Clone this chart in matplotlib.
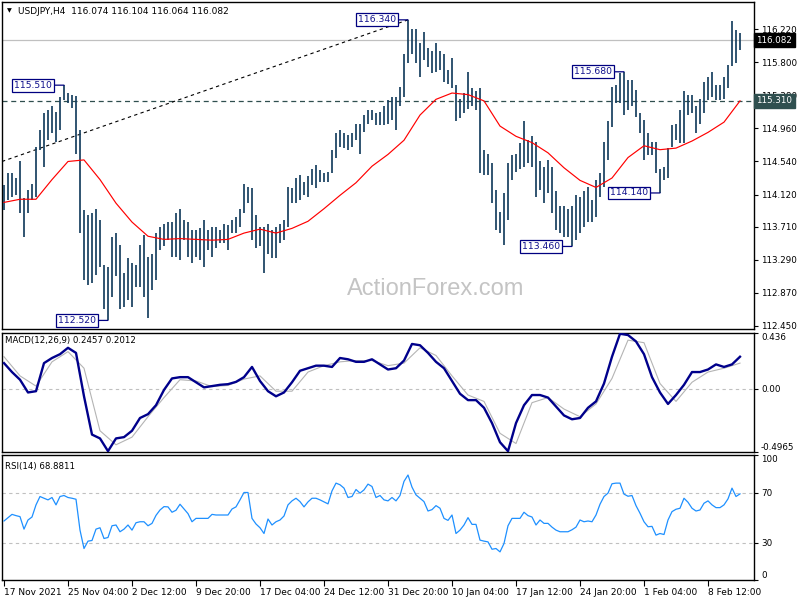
import numpy as np
import matplotlib
matplotlib.use("Agg")
import matplotlib.pyplot as plt

# ---------------- data (one value per 8-hour step) -------------
highs = [114.24, 114.39, 114.39, 114.33, 114.54, 114.07, 114.18, 114.26, 114.73, 114.94,
         115.15, 115.19, 115.24, 115.17, 115.36, 115.51, 115.41, 115.38, 115.37, 114.94,
         113.92, 113.86, 113.88, 113.94, 113.80, 113.22, 113.20, 113.58, 113.63, 113.48,
         113.12, 113.31, 113.25, 113.22, 113.48, 113.61, 113.33, 113.37, 113.63, 113.71,
         113.75, 113.77, 113.77, 113.88, 113.94, 113.80, 113.77, 113.67, 113.67, 113.69,
         113.80, 113.67, 113.71, 113.71, 113.67, 113.75, 113.73, 113.80, 113.84, 113.94,
         114.26, 114.22, 114.20, 113.86, 113.71, 113.71, 113.75, 113.67, 113.71, 113.75,
         113.80, 114.22, 114.20, 114.33, 114.37, 114.28, 114.35, 114.45, 114.49, 114.43,
         114.39, 114.41, 114.69, 114.90, 114.94, 114.90, 114.88, 114.90, 115.02, 115.02,
         115.13, 115.19, 115.19, 115.15, 115.17, 115.24, 115.32, 115.36, 115.36, 115.49,
         115.91, 116.34, 116.23, 116.23, 116.04, 116.19, 115.98, 115.94, 116.04, 115.94,
         115.91, 115.70, 115.85, 115.51, 115.34, 115.41, 115.68, 115.47, 115.43, 115.47,
         114.69, 114.64, 114.52, 114.18, 113.90, 114.14, 114.52, 114.62, 114.64, 114.77,
         115.05, 114.81, 114.86, 114.79, 114.54, 114.47, 114.56, 114.47, 114.16, 113.97,
         113.97, 113.94, 113.97, 114.11, 114.09, 114.16, 114.22, 114.05, 114.31, 114.39,
         114.79, 115.05, 115.49, 115.51, 115.66, 115.68, 115.58, 115.58, 115.45, 115.15,
         115.07, 114.90, 114.79, 114.79, 114.45, 114.47, 114.71, 115.00, 115.02, 115.19,
         115.43, 115.38, 115.38, 115.24, 115.34, 115.55, 115.62, 115.68, 115.51, 115.51,
         115.62, 115.77, 116.33, 116.21, 116.17]
lows = [113.92, 114.05, 114.09, 114.11, 113.88, 113.58, 113.88, 114.05, 114.09, 114.69,
        114.47, 114.81, 114.90, 114.79, 114.94, 115.32, 115.28, 115.22, 114.64, 113.63,
        113.03, 112.97, 112.99, 113.10, 113.20, 112.67, 112.52, 112.82, 113.08, 112.67,
        112.69, 112.78, 112.69, 112.95, 112.95, 112.82, 112.55, 112.91, 113.03, 113.41,
        113.46, 113.54, 113.33, 113.33, 113.29, 113.54, 113.33, 113.25, 113.33, 113.29,
        113.20, 113.41, 113.33, 113.44, 113.50, 113.50, 113.41, 113.63, 113.63, 113.71,
        113.88, 114.01, 113.54, 113.44, 113.46, 113.12, 113.37, 113.31, 113.31, 113.50,
        113.54, 113.71, 114.01, 114.01, 114.05, 114.11, 114.09, 114.24, 114.20, 114.28,
        114.28, 114.28, 114.39, 114.58, 114.73, 114.71, 114.69, 114.73, 114.81, 114.64,
        114.92, 115.02, 115.07, 115.00, 115.00, 115.00, 115.02, 115.07, 114.94, 115.24,
        115.36, 115.79, 115.91, 115.79, 115.62, 115.83, 115.74, 115.66, 115.68, 115.70,
        115.55, 115.53, 115.47, 115.05, 115.09, 115.15, 115.21, 115.24, 115.19, 114.39,
        114.37, 114.37, 114.01, 113.67, 113.63, 113.48, 113.80, 114.30, 114.41, 114.45,
        114.47, 114.52, 114.47, 114.09, 114.18, 114.01, 114.14, 113.88, 113.67, 113.63,
        113.58, 113.58, 113.46, 113.54, 113.63, 113.71, 113.77, 113.77, 113.84, 114.09,
        114.22, 114.56, 114.98, 115.28, 115.28, 115.13, 115.19, 115.24, 115.11, 114.90,
        114.56, 114.62, 114.62, 114.39, 114.14, 114.30, 114.33, 114.73, 114.81, 114.77,
        114.77, 115.13, 115.15, 114.90, 115.02, 115.15, 115.32, 115.36, 115.32, 115.32,
        115.34, 115.47, 115.75, 115.79, 115.96]

# moving average, sampled every 4th step
ma = [114.02, 114.06, 114.06, 114.31, 114.54, 114.56, 114.31, 114.01, 113.77, 113.59,
      113.55, 113.56, 113.55, 113.54, 113.55, 113.63, 113.68, 113.63, 113.69, 113.78,
      113.94, 114.11, 114.27, 114.48, 114.63, 114.81, 115.13, 115.33, 115.41, 115.39,
      115.31, 114.99, 114.86, 114.78, 114.65, 114.46, 114.30, 114.21, 114.33, 114.59,
      114.74, 114.69, 114.71, 114.80, 114.91, 115.04, 115.31]

# MACD main line, every 2nd step
macd = [0.20, 0.13, 0.07, -0.03, -0.02, 0.20, 0.24, 0.27, 0.32, 0.28,
        -0.06, -0.36, -0.39, -0.49, -0.39, -0.38, -0.33, -0.23, -0.20, -0.13,
        -0.01, 0.08, 0.09, 0.09, 0.05, 0.01, 0.02, 0.03, 0.035, 0.053,
        0.09, 0.17, 0.06, -0.02, -0.06, -0.03, 0.05, 0.14, 0.16, 0.18,
        0.18, 0.17, 0.24, 0.23, 0.21, 0.21, 0.23, 0.19, 0.15, 0.16,
        0.22, 0.35, 0.34, 0.28, 0.21, 0.16, 0.06, -0.04, -0.09, -0.09,
        -0.15, -0.27, -0.42, -0.49, -0.27, -0.13, -0.05, -0.05, -0.07, -0.14,
        -0.21, -0.24, -0.23, -0.15, -0.10, 0.04, 0.25, 0.43, 0.42, 0.37,
        0.27, 0.09, -0.03, -0.12, -0.05, 0.03, 0.13, 0.13, 0.15, 0.19,
        0.17, 0.19, 0.25]
# MACD signal line, every 4th step
signal = [0.25, 0.10, 0.02, 0.21, 0.29, 0.16, -0.33, -0.44, -0.38, -0.22,
          -0.07, 0.07, 0.06, 0.016, 0.025, 0.075, 0.10, -0.02, -0.02, 0.13,
          0.18, 0.21, 0.22, 0.22, 0.18, 0.20, 0.32, 0.26, 0.10, -0.05,
          -0.10, -0.35, -0.43, -0.11, -0.07, -0.16, -0.22, -0.12, 0.08, 0.38,
          0.36, 0.04, -0.10, 0.05, 0.13, 0.16, 0.20]

rsi = [47.2, 49.9, 52.5, 51.5, 50.7, 40.7, 48.0, 50.4, 60.1, 66.8,
       65.4, 64.1, 66.0, 60.1, 66.8, 67.6, 66.0, 65.4, 64.6, 39.9,
       25.2, 31.1, 31.6, 40.7, 41.8, 33.2, 34.0, 43.4, 44.0, 38.6,
       40.7, 44.0, 39.9, 45.8, 46.6, 46.6, 43.4, 45.3, 51.7, 56.0,
       58.7, 58.5, 54.2, 55.8, 60.6, 56.8, 53.1, 46.6, 49.3, 49.3,
       49.3, 49.3, 52.5, 52.0, 52.0, 52.0, 52.0, 56.8, 58.5, 64.1,
       70.0, 70.0, 49.3, 44.8, 41.8, 37.2, 48.8, 44.0, 46.6, 48.0,
       51.2, 60.1, 63.3, 65.4, 62.7, 58.5, 62.5, 65.4, 65.4, 64.1,
       62.5, 60.9, 71.3, 77.5, 76.2, 73.5, 66.0, 66.8, 72.4, 69.5,
       72.1, 76.7, 74.8, 66.0,
       67.6, 64.1, 63.3, 66.0, 63.3, 67.6, 78.9, 84.0, 74.3, 68.1,
       65.4, 62.7, 55.2, 56.3, 59.5, 57.4, 49.3, 47.7, 52.0, 37.2,
       39.9, 44.0, 49.9, 44.5, 44.5, 31.9, 31.1, 30.5, 24.6, 25.2,
       22.5, 29.2, 43.4, 49.3, 49.3, 49.3, 54.2, 51.5, 50.4, 44.0,
       48.0, 45.3, 45.3, 42.3, 39.9, 38.6, 38.6, 38.6, 40.2, 42.3,
       48.0, 46.6, 47.2, 46.6, 52.0, 60.6, 66.8, 69.5, 77.0, 77.5,
       77.5, 68.7, 67.0, 67.6, 59.5, 53.4, 46.6, 42.6, 42.9, 35.9,
       37.2, 36.4, 48.0, 54.7, 56.6, 57.4, 65.4, 62.2, 57.4, 55.2,
       56.0, 61.4, 63.3, 60.1, 57.9, 57.9, 60.1, 64.9, 73.5, 66.8,
       68.9]

# swing labels
swing_idx = [15, 101, 26, 142, 164, 155]
swing_val = [115.51, 116.34, 112.52, 113.46, 114.14, 115.68]

# trend line (start, end)
trend_idx = [-0.5, 101]
trend_val = [114.54, 116.34]

support_level = 115.310
last_price = 116.082

price_ticks = [116.22, 115.80, 115.38, 114.96, 114.54, 114.12, 113.71, 113.29, 112.87, 112.45]
macd_ticks = [0.436, 0.0, -0.4965]
macd_tick_labels = ["0.436", "0.00", "-0.4965"]
rsi_ticks = [100, 70, 30, 0]
rsi_levels = [70, 30]

date_labels = ["17 Nov 2021", "25 Nov 04:00", "2 Dec 12:00", "9 Dec 20:00", "17 Dec 04:00",
               "24 Dec 12:00", "31 Dec 20:00", "10 Jan 04:00", "17 Jan 12:00", "24 Jan 20:00",
               "1 Feb 04:00", "8 Feb 12:00"]
steps_per_label = 16

# ---------------- layout ----------------
plt.rcParams['font.family'] = ['DejaVu Sans']
W, H = 800, 600
fig = plt.figure(figsize=(8, 6), dpi=100, facecolor='white')


def rect(x0, y0, x1, y1):
    return [x0 / W, 1 - y1 / H, (x1 - x0) / W, (y1 - y0) / H]


ax1 = fig.add_axes(rect(2, 2, 754, 329))
ax2 = fig.add_axes(rect(2, 333, 754, 452))
ax3 = fig.add_axes(rect(2, 455, 754, 580))

n = len(highs)
idx = np.arange(n)
XL = (-0.5, 187.5)
bar_color = '#173f5f'
navy = '#000080'

for ax in (ax1, ax2, ax3):
    ax.set_xlim(*XL)
    ax.set_facecolor('white')
    for s in ax.spines.values():
        s.set_color('black')
        s.set_linewidth(1.0)
    ax.yaxis.tick_right()
    ax.tick_params(axis='y', length=3, width=0.8, pad=2, labelsize=6.3,
                   direction='out', colors='black')
    ax.tick_params(axis='x', bottom=False, labelbottom=False)

# ---- main price panel ----
ax1.set_ylim(112.411, 116.567)
ax1.axhline(last_price, color='#c0c0c0', lw=0.9, zorder=1)
ax1.axhline(support_level, color='#2f4f4f', lw=0.9, ls=(0, (4, 3)), zorder=1)
ax1.plot(trend_idx, trend_val, color='black', lw=0.8, ls=(0, (3, 3)), zorder=2)
ax1.vlines(idx, lows, highs, color=bar_color, lw=1.25, zorder=3)
ax1.plot(idx[::4], ma, color='red', lw=0.85, zorder=4)

ax1.set_yticks(price_ticks)
ax1.set_yticklabels([f"{v:.3f}" for v in price_ticks])

for bi, v in zip(swing_idx, swing_val):
    ax1.annotate(f"{v:.3f}", xy=(bi, v), xytext=(-12, 0), textcoords='offset pixels',
                 ha='right', va='center', fontsize=6.7, color='#10108c', zorder=6,
                 bbox=dict(boxstyle='square,pad=0.2', fc='white', ec=navy, lw=0.9),
                 arrowprops=dict(arrowstyle='-', color=navy, lw=0.9, shrinkA=0, shrinkB=0))

ytr = ax1.get_yaxis_transform()
ax1.text(1.003, last_price, f"{last_price:.3f}", transform=ytr, ha='left', va='center',
         fontsize=6.3, color='white', clip_on=False, zorder=10,
         bbox=dict(boxstyle='square,pad=0.28', fc='black', ec='black'))
ax1.text(1.003, support_level, f"{support_level:.3f}", transform=ytr, ha='left', va='center',
         fontsize=6.3, color='white', clip_on=False, zorder=10,
         bbox=dict(boxstyle='square,pad=0.28', fc='#2f4f4f', ec='#2f4f4f'))

fig.text(436 / W, 1 - 289 / H, 'ActionForex.com', ha='center', va='center',
         fontsize=17, color='#c4c4c4', family='Liberation Sans')
fig.text(7 / W, 1 - 11 / H, '\u25BC', ha='left', va='center', fontsize=4.5, color='black')
fig.text(18 / W, 1 - 11 / H, 'USDJPY,H4  116.074 116.104 116.064 116.082', ha='left',
         va='center', fontsize=6.5, color='black')

# ---- MACD panel ----
ax2.set_ylim(-0.4965, 0.436)
ax2.axhline(0, color='#c0c0c0', lw=0.8, ls=(0, (3, 3)), zorder=1)
ax2.plot(idx[::4], signal, color='#b4b4b4', lw=0.8, zorder=2)
ax2.plot(idx[::2], macd, color='#00008b', lw=1.7, zorder=3)
ax2.set_yticks(macd_ticks)
ax2.set_yticklabels(macd_tick_labels)
t = ax2.yaxis.get_major_ticks()
t[0].label2.set_va('top')
t[2].label2.set_va('bottom')
fig.text(5 / W, 1 - 341 / H, 'MACD(12,26,9) 0.2457 0.2012', ha='left', va='center',
         fontsize=6.2, color='black')

# ---- RSI panel ----
ax3.set_ylim(0, 100)
for lv in rsi_levels:
    ax3.axhline(lv, color='#c0c0c0', lw=0.8, ls=(0, (3, 3)), zorder=1)
ax3.plot(idx, rsi, color='#1e90ff', lw=0.9, zorder=3)
ax3.set_yticks(rsi_ticks)
ax3.set_yticklabels([str(v) for v in rsi_ticks])
t = ax3.yaxis.get_major_ticks()
t[0].label2.set_va('top')
t[3].label2.set_va('bottom')
fig.text(5 / W, 1 - 467 / H, 'RSI(14) 68.8811', ha='left', va='center',
         fontsize=6.2, color='black')

xt = [k * steps_per_label - 0.1 for k in range(len(date_labels))]
ax3.set_xticks(xt)
ax3.set_xticklabels(date_labels, ha='left')
ax3.tick_params(axis='x', bottom=True, labelbottom=True, length=4, width=0.8,
                pad=1.5, labelsize=6.5, direction='out')

fig.savefig('out.png', dpi=100, facecolor='white')
